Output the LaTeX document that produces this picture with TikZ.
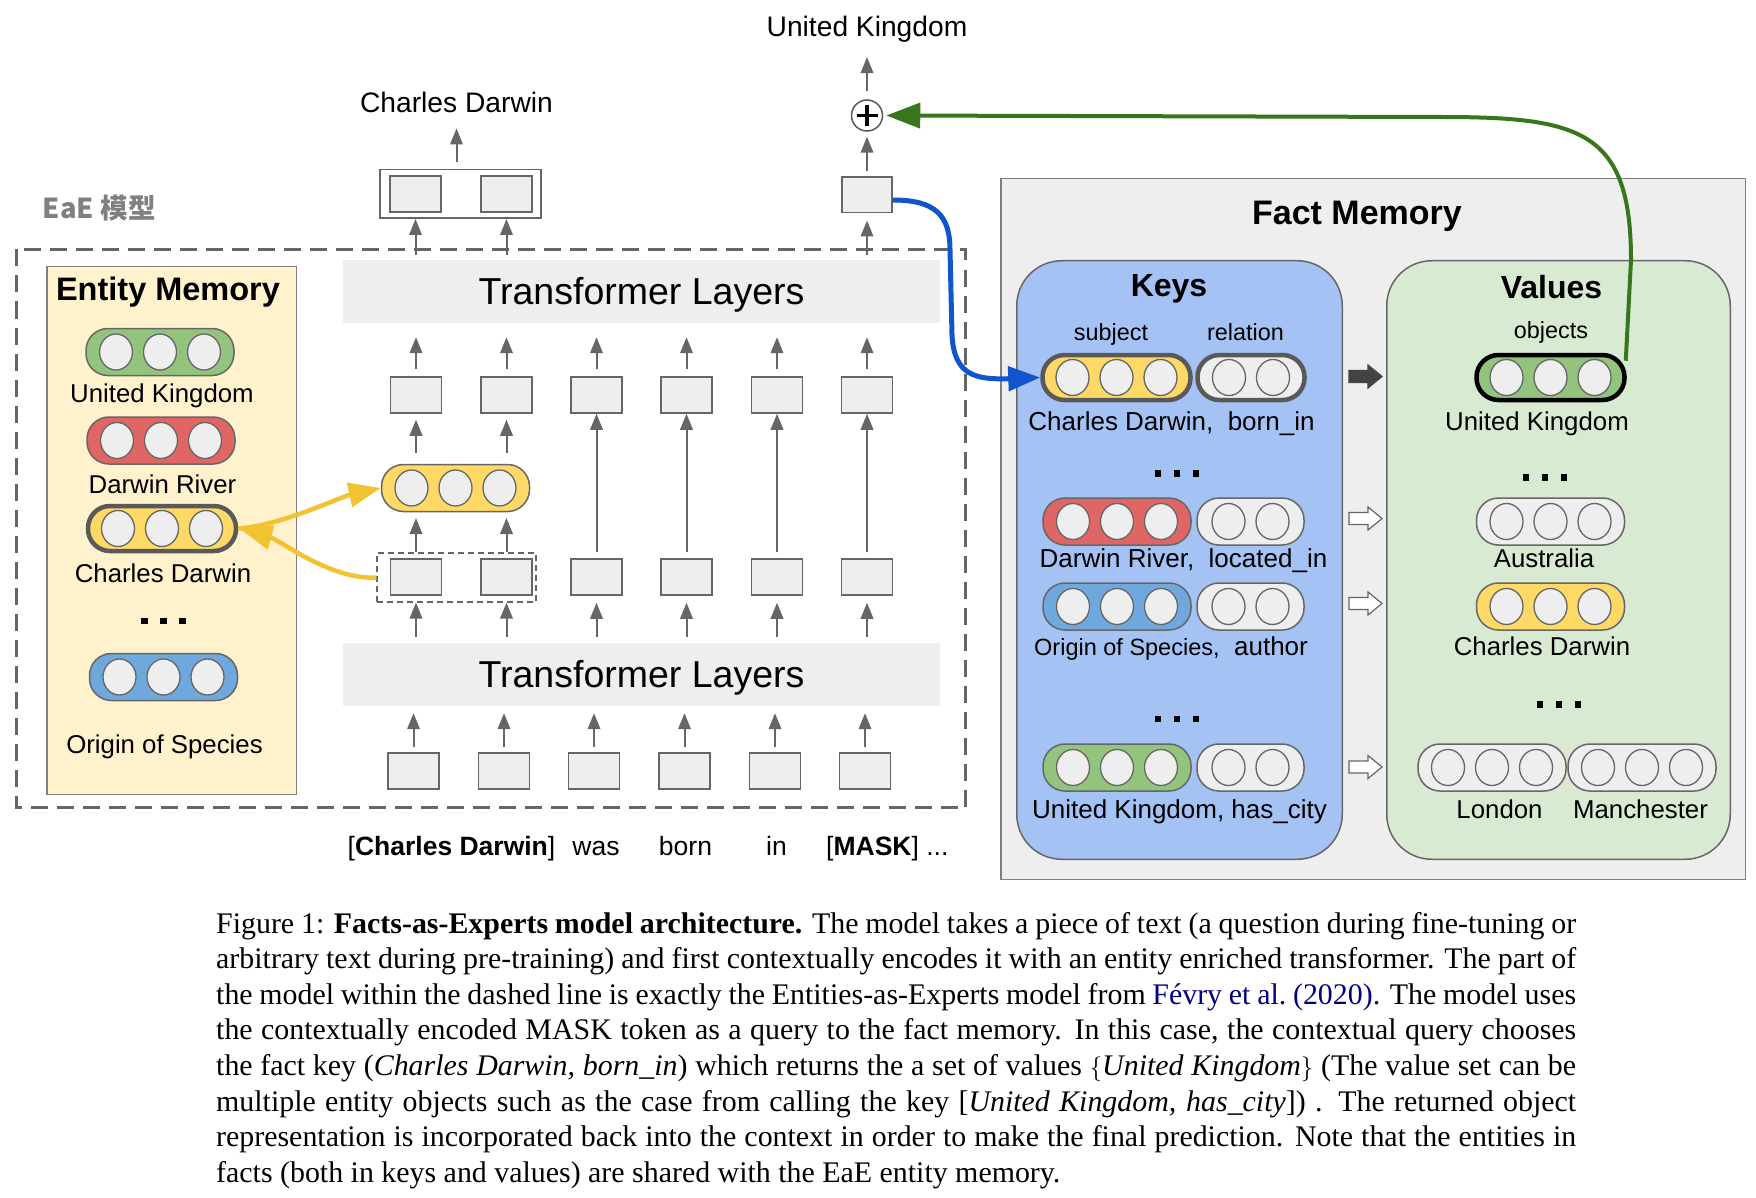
\documentclass[tikz,border=0pt]{standalone}
\usepackage{fontspec}
\setmainfont{Liberation Sans}
\newfontfamily\capfont{Liberation Serif}
\newfontfamily\cjkfont{Noto Sans CJK SC}
\usetikzlibrary{arrows.meta,shapes.geometric,calc}
\definecolor{gline}{HTML}{666666}
\definecolor{boxfill}{HTML}{EEEEEE}
\definecolor{emfill}{HTML}{FFF2CC}
\definecolor{pgreen}{HTML}{93C47D}
\definecolor{pred}{HTML}{E06666}
\definecolor{pyellow}{HTML}{FFD966}
\definecolor{pblue}{HTML}{6FA8DC}
\definecolor{keysfill}{HTML}{A4C2F4}
\definecolor{valsfill}{HTML}{D9EAD3}
\definecolor{darkpill}{HTML}{595959}
\definecolor{arrblue}{HTML}{1155CC}
\definecolor{arrgreen}{HTML}{38761D}
\definecolor{arryellow}{HTML}{F1C232}
\definecolor{blockgrey}{HTML}{434343}
\definecolor{eaegrey}{HTML}{808080}
\definecolor{citeblue}{rgb}{0,0,0.5}
\definecolor{framegrey}{HTML}{7F7F7F}
\newcommand\fsz[1]{\fontsize{#1pt}{#1pt}\selectfont}
\newcommand\pilliii[5]{%
  \node[pillbox,fill=#4,minimum width=148pt,#5] (#1) at (#2,#3) {};
  \foreach \dx/\ci in {-44/1,0/2,44/3}{\node[cell] (#1c\ci) at ($(#1.center)+(\dx,0)$) {};}%
}
\newcommand\pillii[5]{%
  \node[pillbox,fill=#4,minimum width=107pt,#5] (#1) at (#2,#3) {};
  \foreach \dx/\ci in {-22/1,22/2}{\node[cell] (#1c\ci) at ($(#1.center)+(\dx,0)$) {};}%
}
\newcommand\blockarr[3]{\filldraw[fill=#2,draw=#3,line width=1.2pt] (1349,#1-6) -- (1368,#1-6) -- (1368,#1-11.5) -- (1382,#1) -- (1368,#1+11.5) -- (1368,#1+6) -- (1349,#1+6) -- cycle;}
\newcommand\threedots[2]{\foreach \dx in {-19,0,19}{\fill ({#1+\dx-3.25},{#2-3.25}) rectangle ++(6.5,6.5);}}
\begin{document}
\begin{tikzpicture}[x=1pt,y=-1pt,
  gbox/.style={draw=gline,line width=1.5pt,fill=boxfill,minimum width=51pt,minimum height=36pt,inner sep=0pt},
  garrow/.style={draw=gline,line width=2pt,-{Triangle[length=16pt,width=12.5pt]}},
  cell/.style={ellipse,draw=gline,line width=1.3pt,fill=boxfill,minimum width=33pt,minimum height=36pt,inner sep=0pt},
  pillbox/.style={draw=gline,line width=1.5pt,rounded corners=22pt,minimum height=47pt,inner sep=0pt},
  thickpill/.style={draw=darkpill,line width=4.5pt,minimum height=45pt},
  lbl/.style={inner sep=0pt,anchor=base,font=\fsz{25.8}},
  sml/.style={inner sep=0pt,anchor=base,font=\fsz{23.4}},
  ttl/.style={inner sep=0pt,anchor=base},
  yarrow/.style={draw=arryellow,line width=4.5pt,-{Triangle[length=32pt,width=24pt]}},
  barrow/.style={draw=arrblue,line width=5pt,-{Triangle[length=32pt,width=24pt]}},
  grarrow/.style={draw=arrgreen,line width=4pt,-{Triangle[length=34pt,width=25pt]}},
  bigbox/.style={inner sep=0pt,line width=1.5pt}
]
\useasboundingbox (0,0) rectangle (1756,1198);
\fill[white] (0,0) rectangle (1756,1198);

% ---------- EaE part ----------
\node[anchor=base west,inner sep=0pt,font=\cjkfont\bfseries\fsz{27.5},text=eaegrey] (eae) at (42.7,218.3) {EaE 模型};
\draw[gline,line width=3.5pt,dash pattern=on 17pt off 9pt] (16.5,249.5) rectangle (965.5,807.5);

\node[bigbox,draw=framegrey,fill=emfill,minimum width=249.5pt,minimum height=527.5pt] (em) at (171.5,530.5) {};
\node[ttl,font=\bfseries\fsz{32.5}] (emt) at (168,301) {Entity Memory};

\node[fill=boxfill,minimum width=597pt,minimum height=63pt,inner sep=0pt] (tlt) at (641.5,291.5) {};
\node[ttl,font=\fsz{37.5}] (tltx) at (641.5,304.5) {Transformer Layers};
\node[fill=boxfill,minimum width=597pt,minimum height=63pt,inner sep=0pt] (tlb) at (641.5,674.5) {};
\node[ttl,font=\fsz{37.5}] (tlbx) at (641.5,687.5) {Transformer Layers};

\foreach \i/\x in {1/416,2/506.5,3/596.5,4/686.5,5/777,6/867}{
  \node[gbox] (a\i) at (\x,395) {};
  \node[gbox] (b\i) at (\x,577) {};
}
\foreach \i/\x in {1/413.5,2/504,3/594,4/684.5,5/775,6/865}{
  \node[gbox] (c\i) at (\x,771) {};
}
\node[draw=gline,line width=1.2pt,dash pattern=on 6pt off 4pt,minimum width=159pt,minimum height=49pt,inner sep=0pt] (dr) at (456.5,577.5) {};

% outputs
\node[draw=gline,line width=1.5pt,fill=white,minimum width=161pt,minimum height=48.5pt,inner sep=0pt] (cdo) at (460.25,194) {};
\node[gbox] (cd1) at (415.5,194) {};
\node[gbox] (cd2) at (506.5,194) {};
\node[gbox,minimum width=50pt,minimum height=35.5pt] (mo) at (867,195) {};
\node[ttl,font=\fsz{28.2}] (cdt) at (456.5,113) {Charles Darwin};
\node[ttl,font=\fsz{28.2}] (ukt) at (867,37) {United Kingdom};
\node[circle,draw=darkpill,line width=1.5pt,fill=white,minimum size=31pt,inner sep=0pt] (plus) at (867,115.5) {};
\draw[line width=3.2pt] ($(plus)+(-10.5,0)$) -- ($(plus)+(10.5,0)$);
\draw[line width=3.2pt] ($(plus)+(0,-10.5)$) -- ($(plus)+(0,10.5)$);

% grey arrows
\foreach \i in {1,...,6}{
  \draw[garrow,shorten <=5pt,shorten >=7pt] (c\i.north) -- (c\i.north |- tlb.south);
  \draw[garrow,shorten <=7pt,shorten >=14pt] (a\i.north) -- (a\i.north |- tlt.south);
}
\foreach \i in {1,2}{
  \draw[garrow,shorten <=6pt] (tlb.north -| b\i) -- (dr.south -| b\i);
  \draw[garrow,shorten >=5pt] (dr.north -| b\i) -- (b\i |- 0,513);
  \draw[garrow,shorten <=10pt,shorten >=6pt] (a\i |- 0,463) -- (a\i.south);
  \draw[garrow,shorten <=5pt] (tlt.north -| cd\i) -- (cdo.south -| cd\i);
}
\foreach \i in {3,...,6}{
  \draw[garrow,shorten <=6pt,shorten >=7pt] (tlb.north -| b\i) -- (b\i.south);
  \draw[garrow,shorten <=6pt] (b\i.north) -- (a\i.south);
}
\draw[garrow,shorten <=5pt,shorten >=7pt] (tlt.north -| mo) -- (mo.south);
\draw[garrow,shorten <=5.5pt,shorten >=5pt] (mo.north) -- (plus.south);
\draw[garrow,shorten <=8pt,shorten >=14pt] (plus.north) -- (ukt.south);
\draw[garrow,shorten <=7pt,shorten >=15pt] (cdo.north -| cdt) -- (cdt.south);

% entity memory pills
\pilliii{emUK}{160}{352}{pgreen}{}
\pilliii{emDR}{161}{440.5}{pred}{}
\pilliii{emCD}{162}{528.5}{pyellow}{thickpill}
\pilliii{emOS}{163.5}{677}{pblue}{}
\node[lbl] (lemUK) at (162,402) {United Kingdom};
\node[lbl] (lemDR) at (162.5,493) {Darwin River};
\node[lbl] (lemCD) at (163,582) {Charles Darwin};
\node[lbl] (lemOS) at (164.5,753) {Origin of Species};
\threedots{163.5}{621}

% middle pill
\pilliii{mid}{455.5}{488}{pyellow}{}

% bottom sentence
\node[ttl,font=\fsz{26.5}] (w1) at (451.5,855.7) {[\textbf{Charles Darwin}]};
\node[ttl,font=\fsz{26.5}] (w2) at (596,855.7) {was};
\node[ttl,font=\fsz{26.5}] (w3) at (685.5,855.7) {born};
\node[ttl,font=\fsz{26.5}] (w4) at (776.5,855.7) {in};
\node[ttl,anchor=base west,font=\fsz{26.5}] (w5) at (826,855.7) {[\textbf{MASK}] ...};

% ---------- Fact memory ----------
\node[bigbox,draw=framegrey,fill=boxfill,minimum width=744.5pt,minimum height=700.5pt] (fm) at (1373,529) {};
\node[ttl,font=\bfseries\fsz{34}] (fmt) at (1357,225) {Fact Memory};
\node[bigbox,draw=gline,fill=keysfill,rounded corners=45pt,minimum width=325.5pt,minimum height=598.5pt] (keys) at (1179.5,560) {};
\node[bigbox,draw=gline,fill=valsfill,rounded corners=45pt,minimum width=343.5pt,minimum height=598.5pt] (vals) at (1558.5,560) {};
\node[ttl,font=\bfseries\fsz{32}] (keyst) at (1169,297) {Keys};
\node[ttl,font=\bfseries\fsz{32}] (valst) at (1551.5,299) {Values};
\node[sml] (subj) at (1111,340) {subject};
\node[sml] (rel) at (1245.5,340) {relation};
\node[sml] (obj) at (1551,338) {objects};

\pilliii{k1s}{1116.5}{377.5}{pyellow}{thickpill}
\pillii{k1r}{1251}{377.5}{boxfill}{thickpill}
\pilliii{k2s}{1117}{521.5}{pred}{}
\pillii{k2r}{1250.5}{521.5}{boxfill}{}
\pilliii{k3s}{1117}{606.5}{pblue}{}
\pillii{k3r}{1250.5}{606.5}{boxfill}{}
\pilliii{k4s}{1117}{767.5}{pgreen}{}
\pillii{k4r}{1250.5}{767.5}{boxfill}{}
\node[lbl,font=\fsz{26}] (lk1) at (1171.5,430) {Charles Darwin,\ \ born\_in};
\node[lbl,font=\fsz{26}] (lk2) at (1183.5,567) {Darwin River,\ \ located\_in};
\node[lbl,font=\fsz{26}] (lk3) at (1171,655) {{\fsz{23.5}Origin of Species,}\ \ author};
\node[lbl,font=\fsz{26}] (lk4) at (1179.5,818) {United Kingdom, has\_city};
\threedots{1177}{473.5}
\threedots{1177}{719}

\pilliii{v1}{1550.5}{377.5}{pgreen}{draw=black,line width=4.5pt,minimum height=45pt}
\pilliii{v2}{1550.5}{521.5}{boxfill}{}
\pilliii{v3}{1550.5}{606.5}{pyellow}{}
\pilliii{v4}{1492}{767.5}{boxfill}{}
\pilliii{v5}{1642}{767.5}{boxfill}{}
\node[lbl] (lv1) at (1537,430) {United Kingdom};
\node[lbl] (lv2) at (1544,567) {Australia};
\node[lbl] (lv3) at (1542,655) {Charles Darwin};
\node[lbl] (lv4) at (1499.5,818) {London};
\node[lbl] (lv5) at (1640.5,818) {Manchester};
\threedots{1545}{477.7}
\threedots{1559}{704.3}

\blockarr{376.5}{blockgrey}{blockgrey}
\blockarr{518.5}{white}{gline}
\blockarr{603.5}{white}{gline}
\blockarr{767}{white}{gline}

% ---------- coloured connectors ----------
\draw[yarrow] (emCD.east) .. controls (280,526) and (340,497) .. (mid.west);
\draw[yarrow,shorten >=2pt] (dr.west) .. controls (330,580) and (280,540) .. (emCD.east);
\draw[barrow] ([yshift=-5pt]mo.east) .. controls (935,200) and (950,215) .. (950,250) -- (952,335) .. controls (954,375) and (975,380) .. (k1s.west);
\draw[grarrow,shorten >=3pt] ([xshift=-1pt,yshift=-8pt]v1.north east) -- (1631,260) .. controls (1631,130) and (1580,117) .. (1440,117) -- (plus.east);

% ---------- caption ----------
\node[anchor=base west,inner sep=0pt] (cap) at (216,933) {\parbox[t]{1360pt}{\capfont\fontsize{29.9pt}{35.6pt}\selectfont\hyphenpenalty=10000 \exhyphenpenalty=10000
Figure 1: \textbf{Facts-as-Experts model architecture.} The model takes a piece of text (a question during fine-tuning or\linebreak
arbitrary text during pre-training) and first contextually encodes it with an entity enriched transformer. The part of\linebreak
the model within the dashed line is exactly the Entities-as-Experts model from \textcolor{citeblue}{Févry et al.\ (2020)}. The model uses\linebreak
the contextually encoded MASK token as a query to the fact memory. In this case, the contextual query chooses\linebreak
the fact key (\textit{Charles Darwin, born\_in}) which returns the a set of values $\{$\textit{United Kingdom}$\}$ (The value set can be\linebreak
multiple entity objects such as the case from calling the key [\textit{United Kingdom, has\_city}]) . The returned object\linebreak
representation is incorporated back into the context in order to make the final prediction. Note that the entities in\linebreak
facts (both in keys and values) are shared with the EaE entity memory.}};
\end{tikzpicture}
\end{document}
